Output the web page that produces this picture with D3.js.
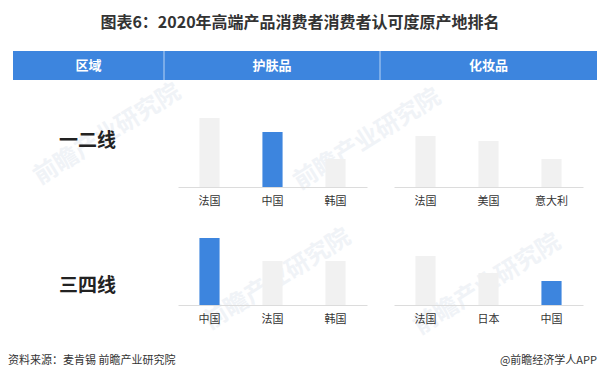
<!DOCTYPE html>
<html>
<head>
<meta charset="utf-8">
<script src="https://cdn.jsdelivr.net/npm/d3@7"></script>
<style>
  body { margin: 0; background: #fff; }
  svg { display: block; font-family: "Noto Sans CJK SC", "Noto Sans", sans-serif; }
</style>
</head>
<body>
<svg class="chart" width="600" height="387"></svg>
<script>
"use strict";
// data (scores are relative bar heights)
var titleText = "图表6：2020年高端产品消费者消费者认可度原产地排名";
var headers = ["区域", "护肤品", "化妆品"];
var regions = ["一二线", "三四线"];
var skinCats = [["法国", "中国", "韩国"], ["中国", "法国", "韩国"]];
var skinVals = [[69, 55, 28], [67, 44, 44]];
var cosmCats = [["法国", "美国", "意大利"], ["法国", "日本", "中国"]];
var cosmVals = [[51, 46, 28], [49, 32, 24]];
var highlight = "中国";

var blue = "#3d85de";
var grey = "#f1f1f1";

var svg = d3.select(".chart");

// faint watermarks
var marks = [[40, 185], [300, 190], [210, 330], [420, 335]];
svg.selectAll("text.wm")
  .data(marks)
  .enter()
  .append("text")
  .attr("class", "wm")
  .attr("transform", function(d) { return "translate(" + d[0] + "," + d[1] + ") rotate(-32)"; })
  .attr("font-size", 24)
  .attr("font-weight", "bold")
  .attr("fill", "#f0f3f7")
  .text("前瞻产业研究院");

// title
svg.append("text")
  .attr("x", 300)
  .attr("y", 28)
  .attr("text-anchor", "middle")
  .attr("font-size", 16)
  .attr("font-weight", "bold")
  .attr("fill", "#333")
  .text(titleText);

// header bar
var cols = [13, 164, 380, 597];
svg.append("rect")
  .attr("x", cols[0]).attr("y", 51)
  .attr("width", cols[3] - cols[0]).attr("height", 29)
  .attr("fill", blue);
svg.selectAll("line.div")
  .data([cols[1], cols[2]])
  .enter()
  .append("line")
  .attr("class", "div")
  .attr("x1", function(d) { return d; }).attr("x2", function(d) { return d; })
  .attr("y1", 51).attr("y2", 80)
  .attr("stroke", "#b9d3f3").attr("stroke-width", 1);
svg.selectAll("text.head")
  .data(headers)
  .enter()
  .append("text")
  .attr("class", "head")
  .attr("x", function(d, i) { return (cols[i] + cols[i + 1]) / 2; })
  .attr("y", 70)
  .attr("text-anchor", "middle")
  .attr("font-size", 13)
  .attr("font-weight", "bold")
  .attr("fill", "#fff")
  .text(function(d) { return d; });

// rows of small bar charts
var baselines = [187, 305];
var labelY = [147, 292];
var plotH = 90;
var y = d3.scaleLinear().domain([0, 90]).range([plotH, 0]);
var panels = [
  {x0: 178, x1: 367, cats: skinCats, vals: skinVals},
  {x0: 394, x1: 583, cats: cosmCats, vals: cosmVals}
];

regions.forEach(function(name, r) {
  var base = baselines[r];
  svg.append("text")
    .attr("x", 59)
    .attr("y", labelY[r])
    .attr("font-size", 19)
    .attr("font-weight", "bold")
    .attr("fill", "#222")
    .text(name);

  panels.forEach(function(p) {
    var cats = p.cats[r];
    var vals = p.vals[r];
    var x = d3.scaleBand().domain(cats).range([p.x0, p.x1]).paddingInner(0.68).paddingOuter(0.34);
    var g = svg.append("g").attr("transform", "translate(0," + (base - plotH) + ")");

    g.selectAll("rect")
      .data(cats)
      .enter()
      .append("rect")
      .attr("x", function(d) { return x(d); })
      .attr("width", x.bandwidth())
      .attr("y", function(d, i) { return y(vals[i]); })
      .attr("height", function(d, i) { return plotH - y(vals[i]); })
      .attr("fill", function(d) { return d === highlight ? blue : grey; });

    var ax = g.append("g")
      .attr("transform", "translate(0," + plotH + ")")
      .call(d3.axisBottom(x).tickSize(0).tickSizeOuter(0).tickPadding(10));
    ax.select(".domain").attr("stroke", "#dcdcdc");
    ax.selectAll("text")
      .attr("font-family", "Noto Sans CJK SC, sans-serif")
      .attr("font-size", 11)
      .attr("fill", "#333");
  });
});

// footer
svg.append("text")
  .attr("x", 8).attr("y", 364)
  .attr("font-size", 11)
  .attr("fill", "#333")
  .text("资料来源：麦肯锡 前瞻产业研究院");
svg.append("text")
  .attr("x", 597).attr("y", 364)
  .attr("text-anchor", "end")
  .attr("font-size", 11)
  .attr("fill", "#333")
  .text("@前瞻经济学人APP");
</script>
</body>
</html>
